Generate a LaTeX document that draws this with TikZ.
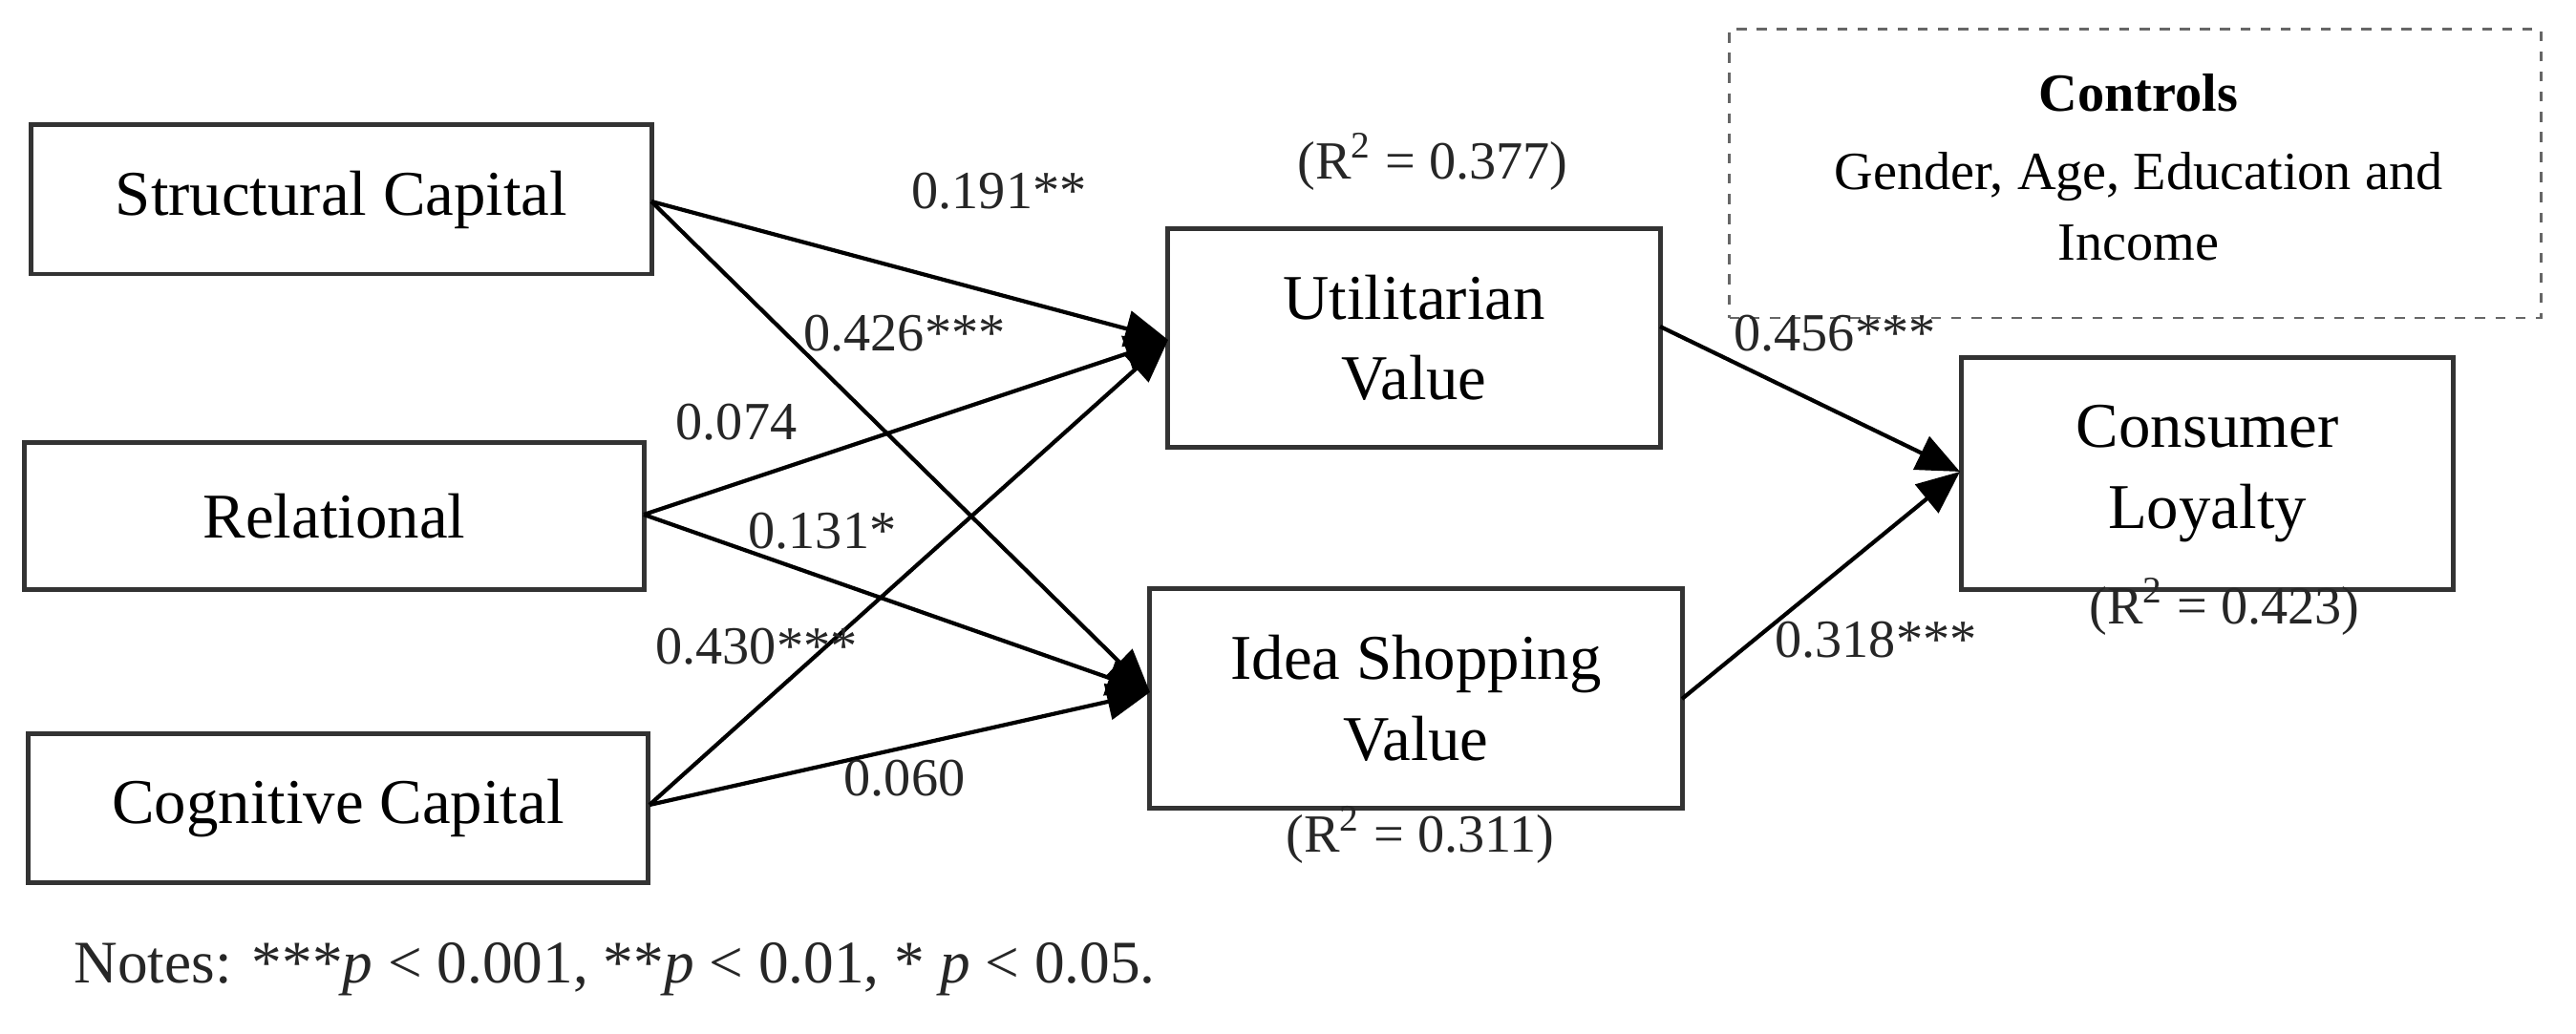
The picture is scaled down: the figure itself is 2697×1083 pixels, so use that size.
\documentclass[tikz,border=0pt]{standalone}
\usepackage{fontspec}
\setmainfont{Liberation Serif}
\usetikzlibrary{arrows.meta}
\begin{document}
\begin{tikzpicture}[x=0.01cm,y=-0.01cm,
  box/.style={draw=black!80,line width=1.4pt,inner sep=0pt,align=center,font=\fontsize{19}{24}\selectfont},
  lab/.style={font=\fontsize{16}{19}\selectfont,text=black!85},
  arr/.style={line width=1.2pt,-{Triangle[length=0.45cm,width=0.38cm]}}]
\useasboundingbox (0,0) rectangle (2697,1083);
\node[box,minimum width=649\pgflinewidth/1.4pt*0+6.49cm,minimum height=1.56cm] (sc) at (357.5,209) {Structural Capital};
\node[box,minimum width=6.48cm,minimum height=1.53cm] (rc) at (350,540.5) {Relational};
\node[box,minimum width=6.48cm,minimum height=1.55cm] (cc) at (354,846.5) {Cognitive Capital};
\node[box,minimum width=5.15cm,minimum height=2.28cm] (uv) at (1480.5,354) {Utilitarian\\Value};
\node[box,minimum width=5.57cm,minimum height=2.29cm] (iv) at (1482.5,731.5) {Idea Shopping\\Value};
\node[box,minimum width=5.14cm,minimum height=2.42cm] (cl) at (2311,496) {Consumer\\Loyalty};
\node[draw=black!60,dashed,line width=0.8pt,minimum width=8.49cm,minimum height=3.02cm] (ctl) at (2235.5,182) {};
\node[font=\fontsize{16}{19}\selectfont\bfseries] (ctt) at (2239,97) {Controls};
\node[font=\fontsize{16}{19}\selectfont,align=center] (ctx) at (2239,216) {Gender, Age, Education and\\[2pt]Income};
\coordinate (scE) at (682,211);
\coordinate (rcE) at (674,539);
\coordinate (ccE) at (680,843);
\coordinate (uvW) at (1223,356);
\coordinate (ivW) at (1204,725);
\coordinate (uvE) at (1738,342);
\coordinate (ivE) at (1761,732);
\coordinate (clW) at (2052,494);
\draw[arr] (scE) -- (uvW);
\draw[arr] (scE) -- (ivW);
\draw[arr] (rcE) -- (uvW);
\draw[arr] (rcE) -- (ivW);
\draw[arr] (ccE) -- (uvW);
\draw[arr] (ccE) -- (ivW);
\draw[arr] (uvE) -- (clW);
\draw[arr] (ivE) -- (clW);
\node[lab] (l1) at (1046,200) {0.191**};
\node[lab] (l2) at (947,349) {0.426***};
\node[lab] (l3) at (771,442) {0.074};
\node[lab] (l4) at (861,556) {0.131*};
\node[lab] (l5) at (792,677) {0.430***};
\node[lab] (l6) at (947,815) {0.060};
\node[lab] (l7) at (1921,349) {0.456***};
\node[lab] (l8) at (1964,670) {0.318***};
\node[lab] (r1) at (1500,169) {(R\textsuperscript{2} = 0.377)};
\node[lab] (r2) at (1487,874) {(R\textsuperscript{2} = 0.311)};
\node[lab] (r3) at (2329,635) {(R\textsuperscript{2} = 0.423)};
\node[font=\fontsize{18}{22}\selectfont,anchor=west,text=black!85] (notes) at (65,1015) {Notes: ***\textit{p} < 0.001, **\textit{p} < 0.01, * \textit{p} < 0.05.};
\end{tikzpicture}
\end{document}
